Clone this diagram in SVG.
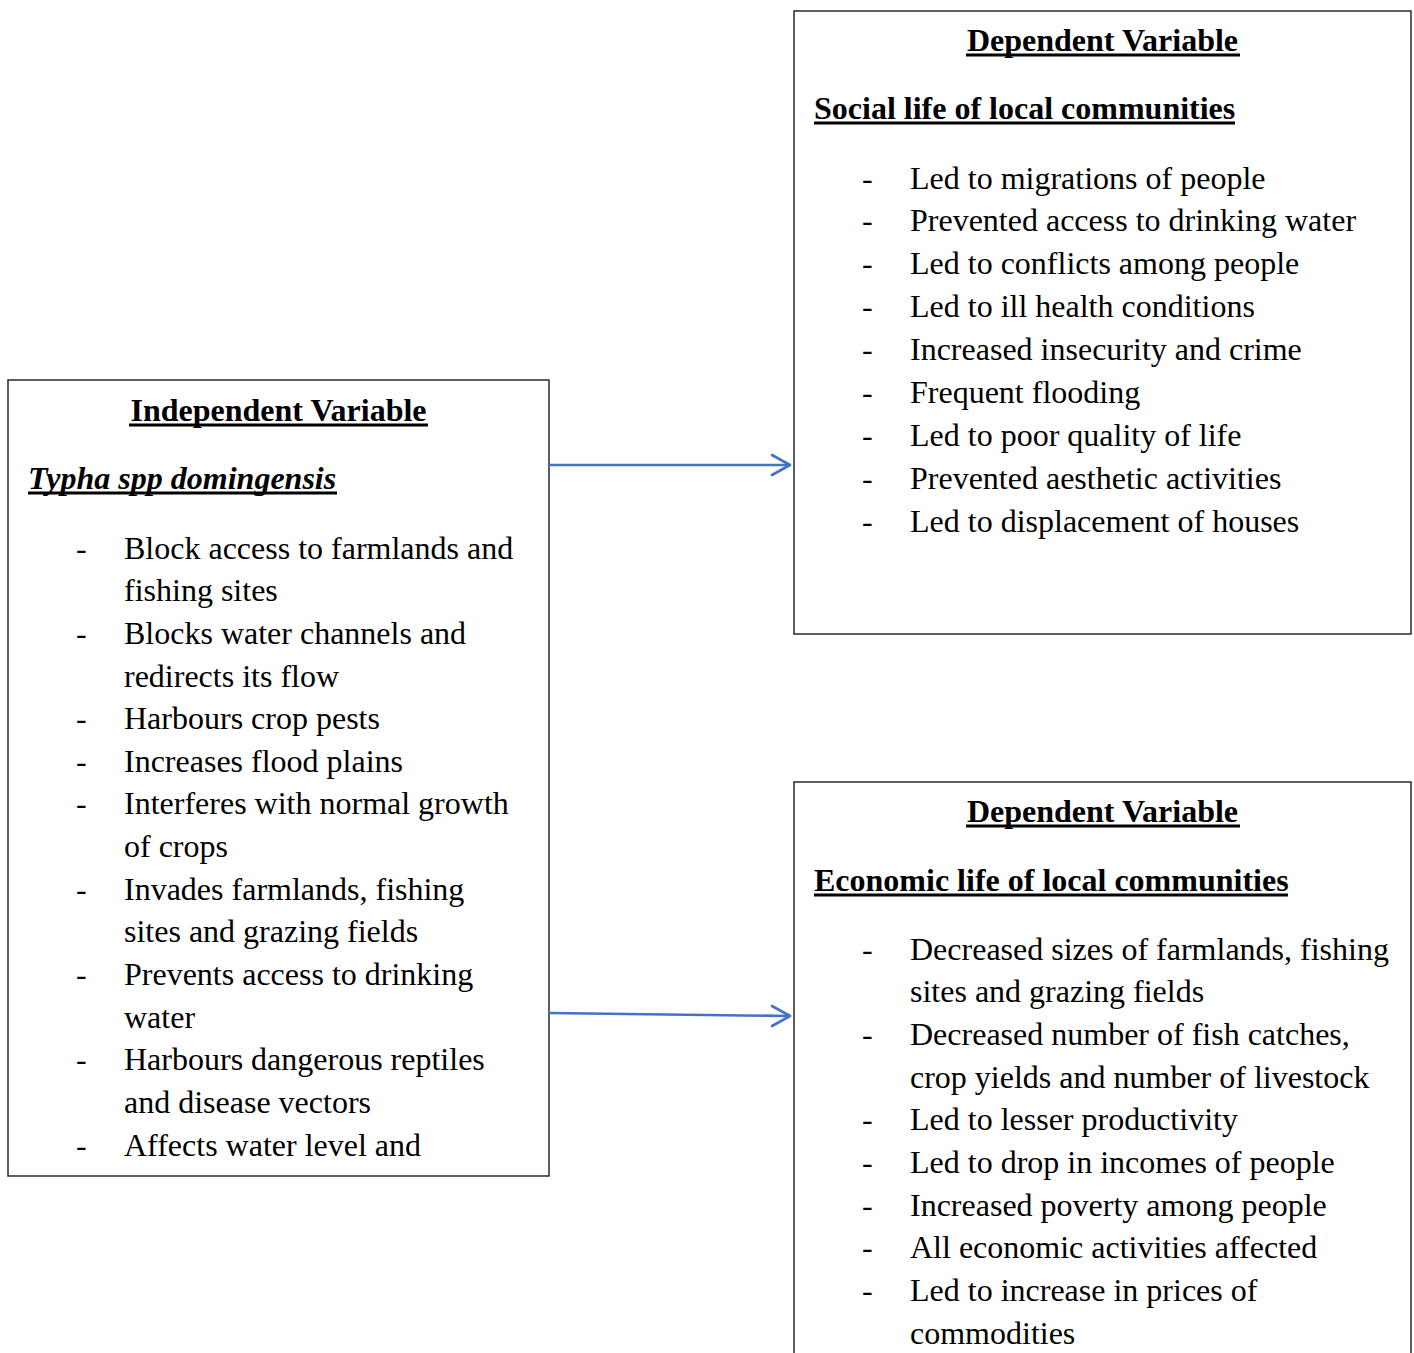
<svg xmlns="http://www.w3.org/2000/svg" width="1414" height="1353" viewBox="0 0 1414 1353">
<style>
.box{fill:#fff;stroke:#1a1a1a;stroke-width:1.4}
.t{font-family:"Liberation Serif","Times New Roman",serif;font-size:32px;fill:#000}
.h{font-weight:bold}
.hc{text-anchor:middle}
.i{font-style:italic}
.ul{stroke:#000;stroke-width:3}
.con{fill:none;stroke:#4472C4;stroke-width:2.6;stroke-linecap:round;stroke-linejoin:round}
</style>
<rect width="1414" height="1353" fill="#fff"/>

<g id="independent">
<rect class="box" x="8" y="380" width="541" height="796"/>
<g transform="translate(0,1.5)">
<text class="t h hc" x="278.5" y="419">Independent Variable</text>
<line class="ul" x1="129" y1="423.5" x2="428" y2="423.5"/>
<text class="t h i" x="28" y="487">Typha spp domingensis</text>
<line class="ul" x1="28" y1="491.5" x2="337" y2="491.5"/>
<g class="t">
<text x="76" y="557">-</text><text x="124" y="557">Block access to farmlands and</text>
<text x="124" y="599.7">fishing sites</text>
<text x="76" y="642.3">-</text><text x="124" y="642.3">Blocks water channels and</text>
<text x="124" y="685">redirects its flow</text>
<text x="76" y="727.6">-</text><text x="124" y="727.6">Harbours crop pests</text>
<text x="76" y="770.3">-</text><text x="124" y="770.3">Increases flood plains</text>
<text x="76" y="812.9">-</text><text x="124" y="812.9">Interferes with normal growth</text>
<text x="124" y="855.6">of crops</text>
<text x="76" y="898.2">-</text><text x="124" y="898.2">Invades farmlands, fishing</text>
<text x="124" y="940.9">sites and grazing fields</text>
<text x="76" y="983.5">-</text><text x="124" y="983.5">Prevents access to drinking</text>
<text x="124" y="1026.2">water</text>
<text x="76" y="1068.8">-</text><text x="124" y="1068.8">Harbours dangerous reptiles</text>
<text x="124" y="1111.5">and disease vectors</text>
<text x="76" y="1154.1">-</text><text x="124" y="1154.1">Affects water level and</text>
</g>
</g>
</g>

<g id="dependent-social">
<rect class="box" x="794" y="11" width="617" height="623"/>
<g transform="translate(0,1.5)">
<text class="t h hc" x="1102.5" y="49">Dependent Variable</text>
<line class="ul" x1="966" y1="53.5" x2="1240" y2="53.5"/>
<text class="t h" x="814" y="117">Social life of local communities</text>
<line class="ul" x1="814" y1="121.5" x2="1235" y2="121.5"/>
<g class="t">
<text x="862" y="187">-</text><text x="910" y="187">Led to migrations of people</text>
<text x="862" y="229.9">-</text><text x="910" y="229.9">Prevented access to drinking water</text>
<text x="862" y="272.8">-</text><text x="910" y="272.8">Led to conflicts among people</text>
<text x="862" y="315.7">-</text><text x="910" y="315.7">Led to ill health conditions</text>
<text x="862" y="358.6">-</text><text x="910" y="358.6">Increased insecurity and crime</text>
<text x="862" y="401.5">-</text><text x="910" y="401.5">Frequent flooding</text>
<text x="862" y="444.4">-</text><text x="910" y="444.4">Led to poor quality of life</text>
<text x="862" y="487.3">-</text><text x="910" y="487.3">Prevented aesthetic activities</text>
<text x="862" y="530.2">-</text><text x="910" y="530.2">Led to displacement of houses</text>
</g>
</g>
</g>

<g id="dependent-economic">
<rect class="box" x="794" y="782" width="617" height="600"/>
<g transform="translate(0,1.5)">
<text class="t h hc" x="1102.5" y="820">Dependent Variable</text>
<line class="ul" x1="966" y1="824.5" x2="1240" y2="824.5"/>
<text class="t h" x="814" y="889">Economic life of local communities</text>
<line class="ul" x1="814" y1="893.5" x2="1288" y2="893.5"/>
<g class="t">
<text x="862" y="958">-</text><text x="910" y="958">Decreased sizes of farmlands, fishing</text>
<text x="910" y="1000.7">sites and grazing fields</text>
<text x="862" y="1043.3">-</text><text x="910" y="1043.3">Decreased number of fish catches,</text>
<text x="910" y="1086">crop yields and number of livestock</text>
<text x="862" y="1128.7">-</text><text x="910" y="1128.7">Led to lesser productivity</text>
<text x="862" y="1171.3">-</text><text x="910" y="1171.3">Led to drop in incomes of people</text>
<text x="862" y="1214">-</text><text x="910" y="1214">Increased poverty among people</text>
<text x="862" y="1256.7">-</text><text x="910" y="1256.7">All economic activities affected</text>
<text x="862" y="1299.3">-</text><text x="910" y="1299.3">Led to increase in prices of</text>
<text x="910" y="1342">commodities</text>
</g>
</g>
</g>

<g id="connectors">
<path class="con" d="M549,465 H789"/>
<path class="con" d="M772,455 L790,465 L772,475"/>
<path class="con" d="M549,1013 L789,1016"/>
<path class="con" d="M772,1006 L790,1016 L772,1026"/>
</g>
</svg>
